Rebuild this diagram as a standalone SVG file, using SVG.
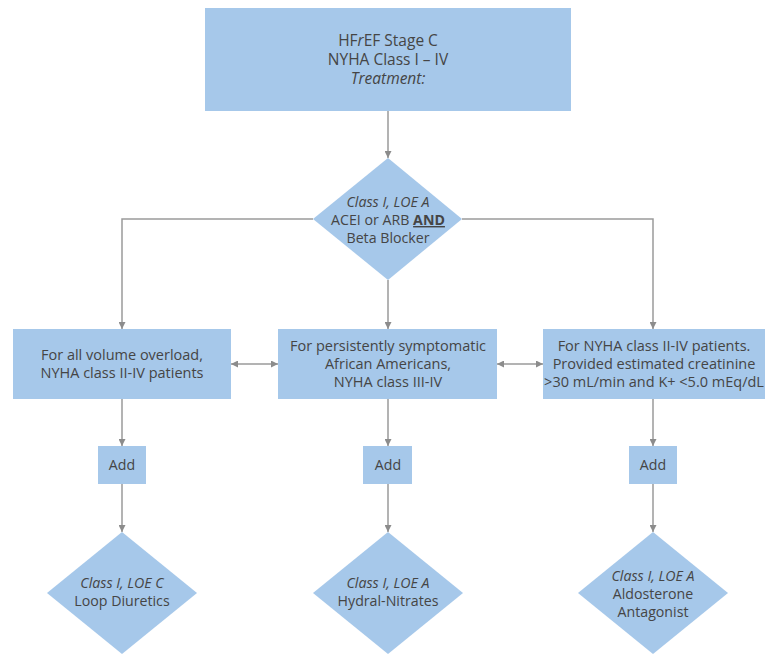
<svg xmlns="http://www.w3.org/2000/svg" width="767" height="654" viewBox="0 0 767 654">
<defs>
<marker id="ah" viewBox="0 0 10 10" refX="10" refY="5" markerWidth="7" markerHeight="7" orient="auto-start-reverse" markerUnits="userSpaceOnUse">
<path d="M0,0 L10,5 L0,10 z" fill="#8c8c8c"/>
</marker>
<style>
.n{fill:#a6c8ea;}
.t{font-family:"Open Sans","Noto Sans",sans-serif;font-size:14.5px;fill:#454545;text-anchor:middle;}
.d{font-size:14.2px;}
.tt{font-size:15.5px;}
.i{font-style:italic;}
.ca{fill:none;stroke:#9a9a9a;stroke-width:1.5;marker-end:url(#ah);}
.cb{fill:none;stroke:#9a9a9a;stroke-width:1.5;marker-end:url(#ah);marker-start:url(#ah);}
</style>
</defs>
<rect width="767" height="654" fill="#ffffff"/>
<g id="connectors">
<line class="ca" x1="388" y1="111" x2="388" y2="158"/>
<polyline class="ca" points="313,219 122,219 122,329"/>
<polyline class="ca" points="462,219 653,219 653,329"/>
<line class="ca" x1="388" y1="280" x2="388" y2="329"/>
<line class="cb" x1="231" y1="364" x2="278" y2="364"/>
<line class="cb" x1="497" y1="364" x2="543" y2="364"/>
<line class="ca" x1="122" y1="399" x2="122" y2="446"/>
<line class="ca" x1="388" y1="399" x2="388" y2="446"/>
<line class="ca" x1="653" y1="399" x2="653" y2="446"/>
<line class="ca" x1="122" y1="484" x2="122" y2="532"/>
<line class="ca" x1="388" y1="484" x2="388" y2="532"/>
<line class="ca" x1="653" y1="484" x2="653" y2="532"/>
</g>
<g id="top">
<rect class="n" x="205" y="8" width="366" height="103"/>
<text class="t tt" x="388" y="46">HF<tspan class="i">r</tspan>EF Stage C</text>
<text class="t tt" x="388" y="65">NYHA Class I – IV</text>
<text class="t tt i" x="388" y="84">Treatment:</text>
</g>
<g id="d1">
<polygon class="n" points="388,158 462,219 388,280 313,219"/>
<text class="t d i" x="388" y="207">Class I, LOE A</text>
<text class="t d" x="388" y="225">ACEI or ARB <tspan font-weight="bold" text-decoration="underline">AND</tspan></text>
<text class="t d" x="388" y="243">Beta Blocker</text>
</g>
<g id="b1">
<rect class="n" x="13" y="329" width="218" height="70"/>
<text class="t" x="122" y="360">For all volume overload,</text>
<text class="t" x="122" y="378">NYHA class II-IV patients</text>
</g>
<g id="b2">
<rect class="n" x="278" y="329" width="219" height="70"/>
<text class="t" x="388" y="351">For persistently symptomatic</text>
<text class="t" x="388" y="369">African Americans,</text>
<text class="t" x="388" y="387">NYHA class III-IV</text>
</g>
<g id="b3">
<rect class="n" x="543" y="329" width="222" height="70"/>
<text class="t" x="654" y="351">For NYHA class II-IV patients.</text>
<text class="t" x="654" y="369">Provided estimated creatinine</text>
<text class="t" x="654" y="387">&gt;30 mL/min and K+ &lt;5.0 mEq/dL</text>
</g>
<g id="add1">
<rect class="n" x="98" y="446" width="48" height="38"/>
<text class="t d" x="122" y="470">Add</text>
</g>
<g id="add2">
<rect class="n" x="363" y="446" width="49" height="38"/>
<text class="t d" x="388" y="470">Add</text>
</g>
<g id="add3">
<rect class="n" x="629" y="446" width="48" height="38"/>
<text class="t d" x="653" y="470">Add</text>
</g>
<g id="d2">
<polygon class="n" points="122,532 197,593 122,654 47,593"/>
<text class="t d i" x="122" y="588">Class I, LOE C</text>
<text class="t d" x="122" y="606">Loop Diuretics</text>
</g>
<g id="d3">
<polygon class="n" points="388,532 463,593 388,654 313,593"/>
<text class="t d i" x="388" y="588">Class I, LOE A</text>
<text class="t d" x="388" y="606">Hydral-Nitrates</text>
</g>
<g id="d4">
<polygon class="n" points="653,532 728,593 653,654 578,593"/>
<text class="t d i" x="653" y="581">Class I, LOE A</text>
<text class="t d" x="653" y="599">Aldosterone</text>
<text class="t d" x="653" y="617">Antagonist</text>
</g>
</svg>
